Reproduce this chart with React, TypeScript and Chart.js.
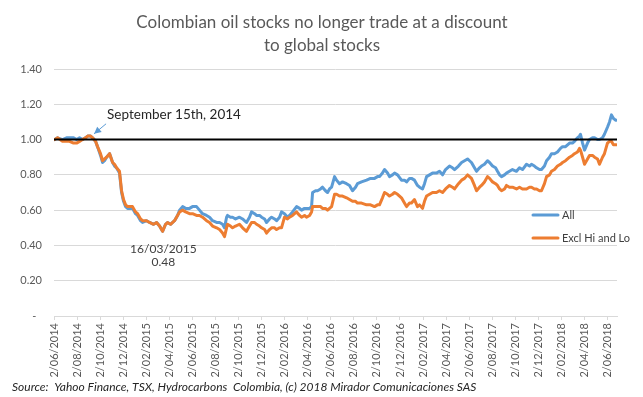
import React, { useEffect, useRef } from 'react';
import { Chart, registerables } from 'chart.js';

Chart.register(...registerables);

// ---------- data ----------
const TITLE_LINES = ['Colombian oil stocks no longer trade at a discount', 'to global stocks'];
const SOURCE_TEXT = 'Source:  Yahoo Finance, TSX, Hydrocarbons  Colombia, (c) 2018 Mirador Comunicaciones SAS';
const SERIES_LABELS = ['All', 'Excl Hi and Lo'];

// x values: months since 2/06/2014
const months = [
  0, 0.26, 0.69, 1.04, 1.3, 1.65, 1.91, 2.17, 2.43, 2.69, 2.87, 3.13, 3.3, 3.56, 3.73, 3.99,
  4.17, 4.34, 4.52, 4.78, 5.04, 5.21, 5.38, 5.64, 5.82, 5.99, 6.17, 6.34, 6.6, 6.77, 7.03, 7.21,
  7.47, 7.64, 7.99, 8.25, 8.6, 8.86, 9.12, 9.38, 9.64, 9.81, 10.07, 10.42, 10.68, 10.86, 11.12,
  11.38, 11.72, 11.98, 12.33, 12.59, 12.85, 13.2, 13.46, 13.72, 14.07, 14.33, 14.59, 14.76, 14.94,
  15.02, 15.28, 15.46, 15.72, 16.06, 16.33, 16.67, 16.93, 17.11, 17.37, 17.54, 17.8, 17.98, 18.24,
  18.41, 18.67, 18.85, 19.11, 19.28, 19.54, 19.71, 19.97, 20.23, 20.41, 20.67, 21.02, 21.28, 21.45,
  21.71, 21.88, 22.15, 22.32, 22.41, 22.67, 22.84, 23.1, 23.27, 23.53, 23.71, 23.88, 24.06, 24.32,
  24.49, 24.75, 25.01, 25.36, 25.62, 25.88, 26.14, 26.31, 26.66, 27.1, 27.44, 27.79, 28.05, 28.22,
  28.48, 28.66, 28.92, 29.09, 29.35, 29.53, 29.79, 30.13, 30.39, 30.57, 30.83, 31.0, 31.26, 31.52,
  31.7, 31.96, 32.13, 32.31, 32.57, 32.83, 33.17, 33.43, 33.7, 33.96, 34.3, 34.56, 34.74, 35.08,
  35.35, 35.61, 35.87, 36.04, 36.21, 36.47, 36.65, 36.91, 37.08, 37.34, 37.6, 37.78, 38.04, 38.3,
  38.47, 38.65, 38.82, 39.08, 39.25, 39.51, 39.77, 40.12, 40.38, 40.64, 40.99, 41.25, 41.42, 41.68,
  41.86, 42.12, 42.29, 42.55, 42.73, 42.99, 43.16, 43.42, 43.68, 43.94, 44.12, 44.38, 44.73, 44.98,
  45.16, 45.42, 45.59, 45.68, 45.86, 46.03, 46.29, 46.46, 46.72, 46.9, 47.16, 47.33, 47.59, 47.76,
  48.02, 48.2, 48.37, 48.54, 48.72, 48.81,
];

const allValues = [
  1.0, 1.01, 1.0, 1.01, 1.01, 1.01, 1.0, 1.01, 1.0, 1.01, 1.02, 1.02, 1.01, 0.99, 0.96, 0.91,
  0.87, 0.88, 0.9, 0.92, 0.87, 0.85, 0.84, 0.81, 0.7, 0.65, 0.62, 0.61, 0.61, 0.61, 0.58, 0.57,
  0.54, 0.53, 0.54, 0.53, 0.52, 0.53, 0.51, 0.48, 0.52, 0.53, 0.52, 0.54, 0.57, 0.6, 0.62,
  0.61, 0.61, 0.62, 0.62, 0.6, 0.58, 0.57, 0.56, 0.54, 0.53, 0.53, 0.52, 0.5, 0.56,
  0.57, 0.56, 0.56, 0.55, 0.56, 0.55, 0.53, 0.56, 0.59, 0.58, 0.57, 0.57, 0.56, 0.55,
  0.53, 0.55, 0.56, 0.55, 0.54, 0.56, 0.59, 0.58, 0.56, 0.57, 0.59, 0.62, 0.61, 0.6,
  0.61, 0.61, 0.61, 0.62, 0.7, 0.71, 0.71, 0.72, 0.73, 0.71, 0.7, 0.72, 0.73, 0.79,
  0.77, 0.75, 0.76, 0.75, 0.74, 0.71, 0.73, 0.75, 0.76, 0.77, 0.78, 0.78, 0.79, 0.79,
  0.81, 0.83, 0.81, 0.79, 0.8, 0.81, 0.8, 0.77, 0.77, 0.76, 0.78, 0.78, 0.77, 0.74,
  0.73, 0.72, 0.75, 0.79, 0.8, 0.81, 0.81, 0.82, 0.8, 0.83, 0.85, 0.84, 0.83, 0.85,
  0.87, 0.88, 0.89, 0.88, 0.87, 0.84, 0.82, 0.84, 0.85, 0.86, 0.88, 0.87, 0.85, 0.84,
  0.82, 0.8, 0.79, 0.8, 0.81, 0.82, 0.83, 0.82, 0.84, 0.83, 0.86, 0.85, 0.86, 0.85,
  0.84, 0.83, 0.83, 0.85, 0.88, 0.9, 0.92, 0.92, 0.93, 0.95, 0.96, 0.96, 0.98, 0.98,
  0.99, 1.01, 1.02, 1.03, 0.98, 0.94, 0.98, 1.0, 1.01, 1.01, 1.0, 1.0, 1.01, 1.03,
  1.07, 1.1, 1.14, 1.12, 1.11, 1.11,
];

const exclValues = [
  1.0, 1.01, 0.99, 0.99, 0.99, 0.98, 0.98, 0.99, 1.0, 1.01, 1.02, 1.02, 1.01, 0.99, 0.96, 0.92,
  0.88, 0.89, 0.9, 0.92, 0.87, 0.86, 0.84, 0.82, 0.71, 0.66, 0.63, 0.62, 0.62, 0.62, 0.59, 0.58,
  0.55, 0.54, 0.54, 0.53, 0.52, 0.53, 0.51, 0.48, 0.52, 0.53, 0.52, 0.54, 0.57, 0.59, 0.6,
  0.59, 0.58, 0.58, 0.57, 0.57, 0.56, 0.54, 0.53, 0.51, 0.5, 0.49, 0.47, 0.45, 0.5,
  0.52, 0.51, 0.5, 0.51, 0.52, 0.5, 0.48, 0.51, 0.53, 0.53, 0.52, 0.51, 0.5, 0.49,
  0.47, 0.49, 0.5, 0.5, 0.49, 0.5, 0.5, 0.56, 0.55, 0.56, 0.57, 0.59, 0.57, 0.56,
  0.57, 0.56, 0.57, 0.59, 0.62, 0.62, 0.62, 0.62, 0.61, 0.61, 0.6, 0.61, 0.62, 0.69,
  0.69, 0.68, 0.68, 0.67, 0.66, 0.65, 0.65, 0.64, 0.64, 0.63, 0.63, 0.62, 0.63, 0.63,
  0.67, 0.7, 0.69, 0.68, 0.69, 0.7, 0.69, 0.67, 0.64, 0.62, 0.64, 0.64, 0.66, 0.62,
  0.63, 0.61, 0.65, 0.68, 0.69, 0.7, 0.7, 0.71, 0.7, 0.72, 0.74, 0.73, 0.72, 0.75,
  0.77, 0.78, 0.8, 0.79, 0.78, 0.74, 0.71, 0.73, 0.74, 0.76, 0.79, 0.78, 0.76, 0.75,
  0.74, 0.72, 0.71, 0.72, 0.74, 0.73, 0.73, 0.72, 0.73, 0.72, 0.72, 0.73, 0.73, 0.72,
  0.72, 0.71, 0.71, 0.75, 0.79, 0.8, 0.82, 0.83, 0.85, 0.86, 0.87, 0.88, 0.9, 0.91,
  0.92, 0.93, 0.95, 0.94, 0.9, 0.86, 0.89, 0.91, 0.91, 0.9, 0.89, 0.86, 0.9, 0.92,
  0.98, 0.99, 0.99, 0.97, 0.97, 0.97,
];

const X_MIN = -0.05;
const X_MAX = 48.85;
const REF_VALUE = 1.0;

const tickMonths = [0, 2, 4, 6, 8, 10, 12, 14, 16, 18, 20, 22, 24, 26, 28, 30, 32, 34, 36, 38, 40, 42, 44, 46, 48];
const tickLabels = [
  '2/06/2014', '2/08/2014', '2/10/2014', '2/12/2014', '2/02/2015', '2/04/2015', '2/06/2015',
  '2/08/2015', '2/10/2015', '2/12/2015', '2/02/2016', '2/04/2016', '2/06/2016', '2/08/2016',
  '2/10/2016', '2/12/2016', '2/02/2017', '2/04/2017', '2/06/2017', '2/08/2017', '2/10/2017',
  '2/12/2017', '2/02/2018', '2/04/2018', '2/06/2018',
];
const yTickValues = [0, 0.2, 0.4, 0.6, 0.8, 1.0, 1.2, 1.4];

// annotations: [month, value]
const septLabel = 'September 15th, 2014';
const septPoint = [3.43, 1.01];
const minLabelLines = ['16/03/2015', '0.48'];
const minPoint = [9.45, 0.48];

// ---------- styles ----------
const FONT = 'Lato, "Open Sans", sans-serif';
const BLUE = '#5B9BD5';
const ORANGE = '#ED7D31';
const GRID = '#d9d9d9';
const TEXT = '#595959';

const overlayPlugin = {
  id: 'overlay',
  afterDraw(chart: any) {
    const ctx: CanvasRenderingContext2D = chart.ctx;
    const xs = chart.scales.x;
    const ys = chart.scales.y;
    const ca = chart.chartArea;
    ctx.save();

    // title
    ctx.fillStyle = TEXT;
    ctx.font = `17px ${FONT}`;
    ctx.textAlign = 'center';
    ctx.textBaseline = 'alphabetic';
    TITLE_LINES.forEach((t, i) => ctx.fillText(t, 322, 28 + i * 23));

    // September annotation + arrow
    const sx = xs.getPixelForValue(septPoint[0]);
    const sy = ys.getPixelForValue(septPoint[1]);
    ctx.fillStyle = '#262626';
    ctx.font = `13.5px ${FONT}`;
    ctx.textAlign = 'left';
    ctx.textBaseline = 'middle';
    ctx.fillText(septLabel, sx + 13, sy - 23);
    const ax0 = sx + 12, ay0 = sy - 14;
    const ax1 = sx, ay1 = sy - 4;
    ctx.strokeStyle = BLUE;
    ctx.fillStyle = BLUE;
    ctx.lineWidth = 1;
    ctx.beginPath();
    ctx.moveTo(ax0, ay0);
    ctx.lineTo(ax1, ay1);
    ctx.stroke();
    const ang = Math.atan2(ay1 - ay0, ax1 - ax0);
    const hl = 7, hw = 3.5;
    ctx.beginPath();
    ctx.moveTo(ax1, ay1);
    ctx.lineTo(ax1 - hl * Math.cos(ang) + hw * Math.sin(ang), ay1 - hl * Math.sin(ang) - hw * Math.cos(ang));
    ctx.lineTo(ax1 - hl * Math.cos(ang) - hw * Math.sin(ang), ay1 - hl * Math.sin(ang) + hw * Math.cos(ang));
    ctx.closePath();
    ctx.fill();

    // minimum annotation
    const mx = xs.getPixelForValue(minPoint[0]);
    const my = ys.getPixelForValue(minPoint[1]);
    ctx.fillStyle = '#404040';
    ctx.font = `12px ${FONT}`;
    ctx.textAlign = 'center';
    minLabelLines.forEach((t, i) => ctx.fillText(t, mx, my + 18 + i * 13));

    // legend
    const colors = [BLUE, ORANGE];
    ctx.font = `11px ${FONT}`;
    ctx.textAlign = 'left';
    SERIES_LABELS.forEach((lbl, i) => {
      const ly = 215 + i * 23;
      ctx.strokeStyle = colors[i];
      ctx.lineWidth = 3;
      ctx.lineCap = 'round';
      ctx.beginPath();
      ctx.moveTo(ca.right - 84, ly);
      ctx.lineTo(ca.right - 59, ly);
      ctx.stroke();
      ctx.fillStyle = '#404040';
      ctx.fillText(lbl, ca.right - 55, ly);
    });

    // source
    ctx.fillStyle = '#262626';
    ctx.font = `italic 12px ${FONT}`;
    ctx.textAlign = 'left';
    ctx.fillText(SOURCE_TEXT, 12, 387);

    ctx.restore();
  },
};

export default function App() {
  const ref = useRef<HTMLCanvasElement>(null);

  useEffect(() => {
    if (!ref.current) return;
    const chart = new Chart(ref.current, {
      type: 'line',
      data: {
        datasets: [
          {
            label: 'ref',
            data: [X_MIN, X_MAX].map((x) => ({ x, y: REF_VALUE })),
            borderColor: '#000000',
            borderWidth: 2,
            pointRadius: 0,
          },
          {
            label: SERIES_LABELS[1],
            data: months.map((m, i) => ({ x: m, y: exclValues[i] })),
            borderColor: ORANGE,
            borderWidth: 3,
            pointRadius: 0,
            borderJoinStyle: 'round',
            borderCapStyle: 'round',
          },
          {
            label: SERIES_LABELS[0],
            data: months.map((m, i) => ({ x: m, y: allValues[i] })),
            borderColor: BLUE,
            borderWidth: 3,
            pointRadius: 0,
            borderJoinStyle: 'round',
            borderCapStyle: 'round',
          },
        ],
      },
      options: {
        responsive: false,
        animation: false,
        layout: { padding: { top: 69, right: 26, left: 0, bottom: 0 } },
        plugins: {
          legend: { display: false },
          tooltip: { enabled: false },
          title: { display: false },
        },
        scales: {
          x: {
            type: 'linear',
            min: X_MIN,
            max: X_MAX,
            afterBuildTicks: (s: any) => {
              s.ticks = tickMonths.map((v) => ({ value: v }));
            },
            afterFit: (s: any) => {
              s.height = 81;
            },
            grid: { display: true, drawOnChartArea: false, drawTicks: true, tickLength: 4, color: GRID },
            border: { display: true, color: GRID },
            ticks: {
              autoSkip: false,
              minRotation: 90,
              maxRotation: 90,
              padding: 3,
              color: TEXT,
              font: { family: FONT, size: 11 },
              callback: (v: any) => {
                const i = tickMonths.indexOf(Number(v));
                return i >= 0 ? tickLabels[i] : '';
              },
            },
          },
          y: {
            min: 0,
            max: 1.4,
            afterBuildTicks: (s: any) => {
              s.ticks = yTickValues.map((v) => ({ value: v }));
            },
            afterFit: (s: any) => {
              s.width = 54;
            },
            grid: { color: GRID, drawTicks: false },
            border: { display: false },
            ticks: {
              padding: 12,
              color: TEXT,
              font: { family: FONT, size: 11 },
              callback: (v: any) => (Number(v) === 0 ? '-  ' : Number(v).toFixed(2)),
            },
          },
        },
      },
      plugins: [overlayPlugin],
    } as any);
    return () => chart.destroy();
  }, []);

  return (
    <div style={{ position: 'absolute', left: 0, top: 0, width: 643, height: 397, background: '#ffffff' }}>
      <canvas ref={ref} width={643} height={397} style={{ display: 'block' }} />
    </div>
  );
}
